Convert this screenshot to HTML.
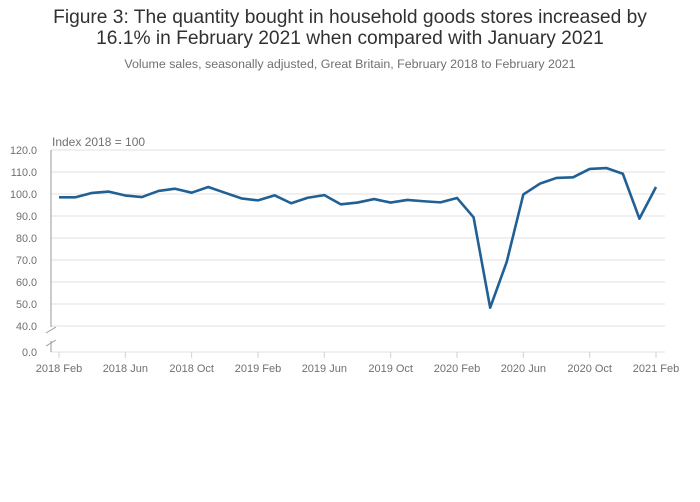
<!DOCTYPE html>
<html><head><meta charset="utf-8"><style>
body{margin:0;background:#fff;font-family:"Liberation Sans",sans-serif}
#wrap{position:relative;width:700px;height:502px;overflow:hidden}
.t{position:absolute;left:0;width:700px;text-align:center;color:#323132}
</style></head><body>
<div id="wrap">
<div class="t" style="top:7px;font-size:19.2px;line-height:21px">Figure 3: The quantity bought in household goods stores increased by<br>16.1% in February 2021 when compared with January 2021</div>
<div class="t" style="top:57px;font-size:12.4px;color:#707070">Volume sales, seasonally adjusted, Great Britain, February 2018 to February 2021</div>
<svg id="svg" width="700" height="502" style="position:absolute;left:0;top:0"></svg>
</div>
<script>
const values=[98.5,98.5,100.5,101.1,99.3,98.6,101.4,102.4,100.6,103.2,100.6,98.0,97.1,99.4,95.8,98.3,99.5,95.3,96.1,97.7,96.1,97.3,96.7,96.2,98.2,89.4,48.3,69.2,99.8,104.7,107.3,107.6,111.4,111.8,109.2,88.8,103.2];
const yTicks=[120,110,100,90,80,70,60,50,40];
const xTickLabels=["2018 Feb","2018 Jun","2018 Oct","2019 Feb","2019 Jun","2019 Oct","2020 Feb","2020 Jun","2020 Oct","2021 Feb"];
const svg=document.getElementById('svg');const NS='http://www.w3.org/2000/svg';
function mk(t,a){const e=document.createElementNS(NS,t);for(const k in a)e.setAttribute(k,a[k]);svg.appendChild(e);return e;}
const x=i=>59+i*(656-59)/36;
const y=v=>150+(120-v)*2.2;
let e;
yTicks.forEach(v=>{
 e=mk('line',{x1:51,x2:665,y1:y(v),y2:y(v),stroke:'#e0e0e0','stroke-width':1});
 
 
 e=mk('text',{x:37,y:y(v)+4,'text-anchor':'end','font-size':10.8,fill:'#707070','font-family':'Liberation Sans'});e.textContent=v.toFixed(1);
 
 
});
e=mk('line',{x1:51,x2:665,y1:352,y2:352,stroke:'#e0e0e0'});


e=mk('text',{x:37,y:356,'text-anchor':'end','font-size':10.8,fill:'#707070','font-family':'Liberation Sans'});e.textContent='0.0';


e=mk('path',{d:'M51 150V327M51 341V352',stroke:'#999',fill:'none'});


e=mk('path',{d:'M46 333L56 327M46 346L56 340',stroke:'#999',fill:'none'});


e=mk('text',{x:52,y:146,'font-size':12,fill:'#707070','font-family':'Liberation Sans'});e.textContent='Index 2018 = 100';


xTickLabels.forEach((l,k)=>{
 const xx=x(k*4);
 e=mk('line',{x1:xx,x2:xx,y1:352,y2:358,stroke:'#c8d3e0'});
 
 
 e=mk('text',{x:xx,y:372,'text-anchor':'middle','font-size':11,fill:'#707070','font-family':'Liberation Sans'});e.textContent=l;
 
 
});
e=mk('polyline',{points:values.map((v,i)=>x(i)+','+y(v)).join(' '),fill:'none',stroke:'#206095','stroke-width':2.6,'stroke-linejoin':'round'});


</script>
</body></html>
